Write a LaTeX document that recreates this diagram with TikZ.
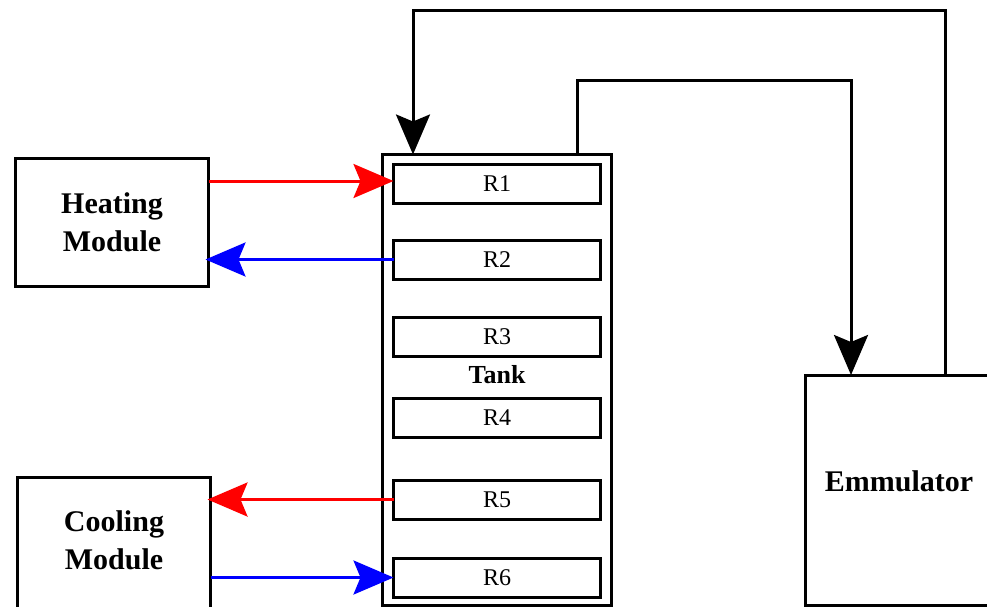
\documentclass[tikz,border=0pt]{standalone}
\usepackage{fontspec}
\setmainfont{Liberation Serif}
\usetikzlibrary{arrows.meta}
\begin{document}
\begin{tikzpicture}[x=1pt,y=-1pt,
  box/.style={draw=black, line width=3pt, inner sep=0pt, outer sep=0pt},
  regbox/.style={box, minimum width=207pt, minimum height=39pt, font=\fontsize{24}{28}\selectfont},
  bigtxt/.style={font=\fontsize{30}{38}\selectfont\bfseries, align=center, inner sep=0pt},
  tip/.style={-{Stealth[length=40pt,width=34pt,inset=7pt]}},
  hotline/.style={red, line width=3pt, tip},
  coldline/.style={blue, line width=3pt, tip},
  pipe/.style={black, line width=3pt, tip}]
\useasboundingbox (0,0) rectangle (987,606);
\clip (0,0) rectangle (987,606);

% modules
\node[box, minimum width=193pt, minimum height=128pt, bigtxt] (heat) at (112,222.5) {Heating\\Module};
\node[box, minimum width=193pt, minimum height=140pt] (cool) at (114,547.5) {};
\node[bigtxt] (cooltxt) at (114,540) {Cooling\\Module};

% tank
\node[box, minimum width=229pt, minimum height=451pt] (tank) at (497,380) {};
\node[font=\fontsize{26}{30}\selectfont\bfseries, inner sep=0pt] (tanktxt) at (497,375) {Tank};
\node[regbox] (r1) at (497,184) {R1};
\node[regbox] (r2) at (497,259.5) {R2};
\node[regbox] (r3) at (497,337) {R3};
\node[regbox] (r4) at (497,417.5) {R4};
\node[regbox] (r5) at (497,499.5) {R5};
\node[regbox] (r6) at (497,577.5) {R6};

% emulator
\node[box, minimum width=190pt, minimum height=230pt] (emu) at (900.5,490) {};
\node[bigtxt] (emutxt) at (899,481) {Emmulator};

% red / blue connectors
\draw[hotline] ([yshift=3pt]heat.east |- r1.west) -- ([yshift=3pt]r1.west);
\draw[coldline] (r2.west) -- ([xshift=-3pt]heat.east |- r2.west);
\draw[hotline] (r5.west) -- ([xshift=-3pt]cool.east |- r5.west);
\draw[coldline] (cool.east |- r6.west) -- (r6.west);

% pipes between tank and emulator
\coordinate (emuout) at ([xshift=44.5pt]emu.north);
\coordinate (tankin) at ([xshift=-84pt]tank.north);
\coordinate (toprail) at (0,10);
\draw[pipe] (emuout) -- (emuout |- toprail) -| (tankin);

\coordinate (tankout) at ([xshift=80pt]tank.north);
\coordinate (emuin) at ([xshift=-49.5pt]emu.north);
\coordinate (midrail) at (0,80);
\draw[pipe] (tankout) -- (tankout |- midrail) -| (emuin);
\end{tikzpicture}
\end{document}
